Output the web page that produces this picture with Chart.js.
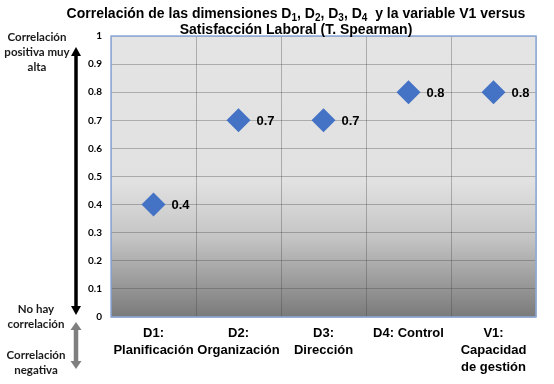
<!DOCTYPE html>
<html>
<head>
<meta charset="utf-8">
<script src="https://cdn.jsdelivr.net/npm/chart.js@4.4.1/dist/chart.umd.min.js"></script>
<style>
  html, body { margin: 0; padding: 0; background: #ffffff; }
  #wrap { position: relative; width: 554px; height: 384px; }
</style>
</head>
<body>
<div id="wrap"><canvas id="c" width="554" height="384"></canvas></div>
<script>
// ---- data ----
const categories = [
  ["D1:", "Planificación"],
  ["D2:", "Organización"],
  ["D3:", "Dirección"],
  ["D4: Control"],
  ["V1:", "Capacidad", "de gestión"]
];
const correlationValues = [0.4, 0.7, 0.7, 0.8, 0.8];
const valueLabels = ["0.4", "0.7", "0.7", "0.8", "0.8"];
const yTickLabels = ["0", "0.1", "0.2", "0.3", "0.4", "0.5", "0.6", "0.7", "0.8", "0.9", "1"];
// title line 1 as [text, isSubscript] segments
const titleLine1 = [
  ["Correlación de las dimensiones D", false], ["1", true], [", D", false], ["2", true],
  [", D", false], ["3", true], [", D", false], ["4", true], ["  y la variable V1 versus", false]
];
const titleLine2 = "Satisfacción Laboral (T. Spearman)";
const leftTop = ["Correlación", "positiva muy", "alta"];
const leftMid = ["No hay", "correlación"];
const leftBottom = ["Correlación", "negativa"];

const bgPlugin = {
  id: 'bgPlugin',
  beforeDraw(chart) {
    const {ctx, chartArea: a} = chart;
    const g = ctx.createLinearGradient(0, a.top, 0, a.bottom);
    g.addColorStop(0, '#e4e4e4');
    g.addColorStop(0.52, '#e1e1e1');
    g.addColorStop(0.72, '#c4c4c4');
    g.addColorStop(1, '#7a7a7a');
    ctx.save();
    ctx.fillStyle = g;
    ctx.fillRect(a.left, a.top, a.right - a.left, a.bottom - a.top);
    ctx.restore();
  },
  beforeDatasetsDraw(chart) {
    const {ctx, chartArea: a} = chart;
    ctx.save();
    ctx.strokeStyle = '#8eaadb';
    ctx.lineWidth = 1.5;
    ctx.strokeRect(a.left, a.top, a.right - a.left, a.bottom - a.top);
    ctx.restore();
  }
};

function arrow(ctx, x, y1, y2, color, shaft, headW, headH) {
  ctx.fillStyle = color;
  ctx.fillRect(x - shaft / 2, y1 + headH - 1, shaft, (y2 - y1) - 2 * headH + 2);
  ctx.beginPath();
  ctx.moveTo(x, y1); ctx.lineTo(x + headW / 2, y1 + headH); ctx.lineTo(x - headW / 2, y1 + headH); ctx.closePath();
  ctx.fill();
  ctx.beginPath();
  ctx.moveTo(x, y2); ctx.lineTo(x + headW / 2, y2 - headH); ctx.lineTo(x - headW / 2, y2 - headH); ctx.closePath();
  ctx.fill();
}

const FONT_MAIN = '"Liberation Sans", Arial, sans-serif';

const annPlugin = {
  id: 'annPlugin',
  afterDraw(chart) {
    const {ctx} = chart;
    ctx.save();
    // title
    ctx.fillStyle = '#000';
    ctx.textBaseline = 'alphabetic';
    const big = 'bold 14px ' + FONT_MAIN, small = 'bold 10px ' + FONT_MAIN;
    let total = 0;
    titleLine1.forEach(([t, sub]) => { ctx.font = sub ? small : big; total += ctx.measureText(t).width; });
    let x = 296 - total / 2;
    ctx.textAlign = 'left';
    titleLine1.forEach(([t, sub]) => {
      ctx.font = sub ? small : big;
      ctx.fillText(t, x, sub ? 21 : 18);
      x += ctx.measureText(t).width;
    });
    ctx.font = big;
    ctx.textAlign = 'center';
    ctx.fillText(titleLine2, 296, 34);
    // left annotations
    ctx.textBaseline = 'middle';
    ctx.font = 'bold 11.5px Lato, "Open Sans", sans-serif';
    ctx.fillStyle = '#1a1a1a';
    leftTop.forEach((t, i) => ctx.fillText(t, 37, 37 + i * 15));
    leftMid.forEach((t, i) => ctx.fillText(t, 36, 309 + i * 15));
    leftBottom.forEach((t, i) => ctx.fillText(t, 36, 355 + i * 15));
    // arrows
    arrow(ctx, 76, 47, 315, '#000000', 3.5, 10, 9);
    arrow(ctx, 76, 322, 369, '#7f7f7f', 4.5, 11, 8);
    // value labels
    const meta = chart.getDatasetMeta(0);
    ctx.font = 'bold 13px ' + FONT_MAIN;
    ctx.fillStyle = '#000';
    ctx.textAlign = 'left';
    meta.data.forEach((pt, i) => {
      ctx.fillText(valueLabels[i], pt.x + 18, pt.y + 1);
    });
    ctx.restore();
  }
};

new Chart(document.getElementById('c'), {
  type: 'line',
  data: {
    labels: categories,
    datasets: [{
      data: correlationValues,
      showLine: false,
      pointStyle: 'rectRot',
      pointRadius: 12,
      pointHoverRadius: 12,
      pointBackgroundColor: '#4472c4',
      pointBorderColor: '#4472c4',
      pointBorderWidth: 0
    }]
  },
  options: {
    responsive: false,
    animation: false,
    events: [],
    layout: { padding: { left: 0, right: 18, top: 36, bottom: 0 } },
    plugins: { legend: { display: false }, title: { display: false }, tooltip: { enabled: false } },
    scales: {
      x: {
        type: 'category',
        offset: true,
        grid: { offset: true, color: 'rgba(70,70,70,0.35)', lineWidth: 1, drawTicks: false },
        border: { display: false },
        ticks: {
          color: '#000',
          font: { family: FONT_MAIN, size: 13, weight: 'bold', lineHeight: 1.3 },
          padding: 8,
          maxRotation: 0,
          autoSkip: false
        },
        afterFit(s) { s.height = 67; }
      },
      y: {
        min: 0, max: 1,
        ticks: {
          stepSize: 0.1,
          color: '#000',
          font: { family: 'Lato, "Open Sans", sans-serif', size: 10, weight: 'bold' },
          padding: 9,
          callback: (v, i) => yTickLabels[i]
        },
        grid: { color: 'rgba(70,70,70,0.35)', lineWidth: 1, drawTicks: false },
        border: { display: false },
        afterFit(s) { s.width = 111; }
      }
    }
  },
  plugins: [bgPlugin, annPlugin]
});
</script>
</body>
</html>
